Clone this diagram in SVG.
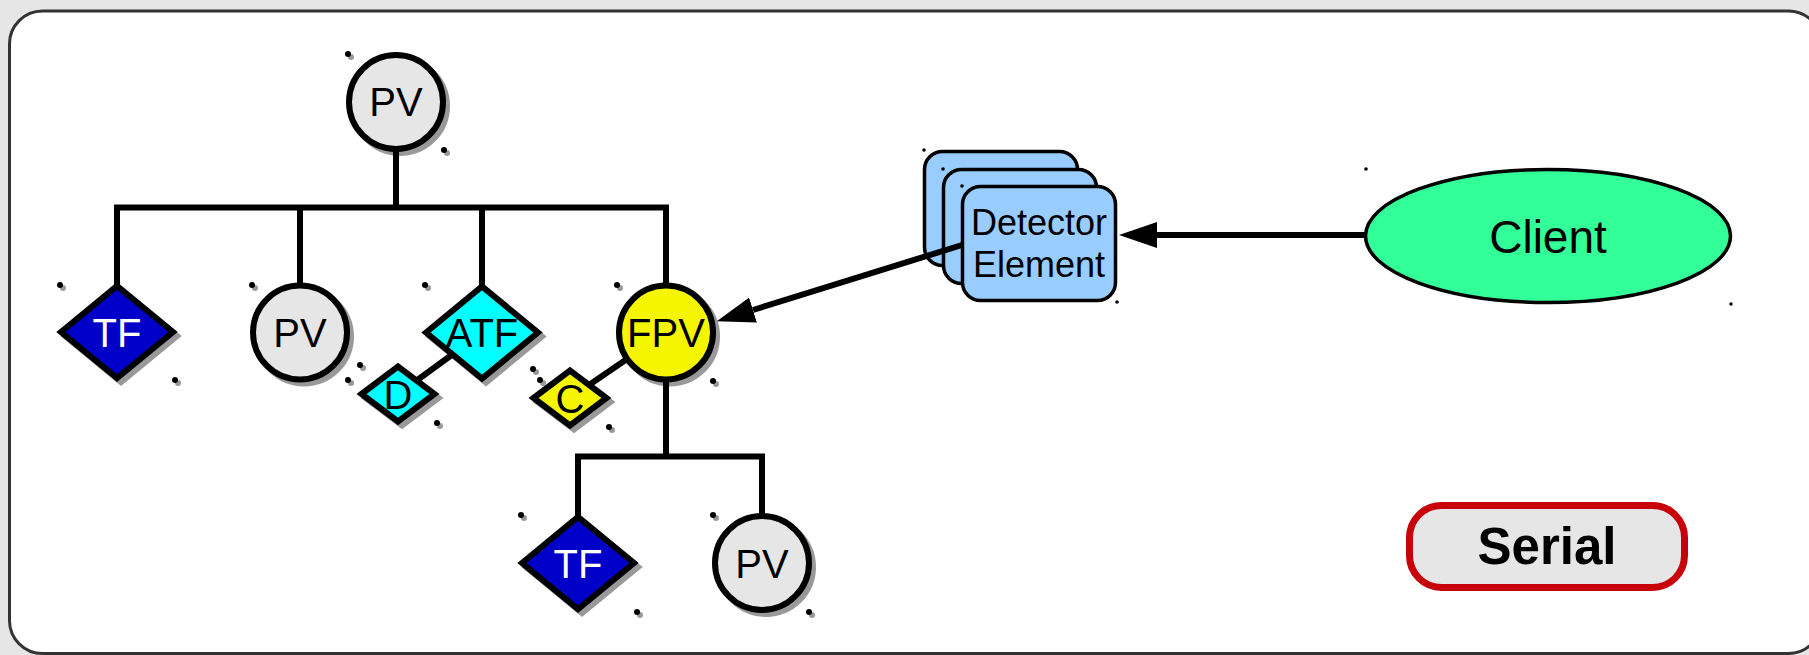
<svg xmlns="http://www.w3.org/2000/svg" width="1809" height="655" viewBox="0 0 1809 655">
<defs>
<style>
.bg{fill:#e6e6e6}
.frame{fill:#fff;stroke:#333;stroke-width:3}
.sh{fill:#999;stroke:#999;stroke-width:6}
.pv{fill:#e6e6e6;stroke:#000;stroke-width:6}
.tf{fill:#0000c8;stroke:#000;stroke-width:6}
.cy{fill:#00ffff;stroke:#000;stroke-width:6}
.ye{fill:#f5f500;stroke:#000;stroke-width:6}
.det{fill:#99ccff;stroke:#000;stroke-width:3.5}
.cl{fill:#33ff99;stroke:#000;stroke-width:3.5}
.serial{fill:#e6e6e6;stroke:#c8000a;stroke-width:7}
.lbl{font-family:"Liberation Sans",Arial,sans-serif;font-size:40px;text-anchor:middle;fill:#000}
.w{fill:#fff}
.dtxt{font-family:"Liberation Sans",Arial,sans-serif;font-size:36px;text-anchor:middle;fill:#000}
.ctxt{font-family:"Liberation Sans",Arial,sans-serif;font-size:46px;text-anchor:middle;fill:#000}
.stxt{font-family:"Liberation Sans",Arial,sans-serif;font-size:51px;font-weight:bold;text-anchor:middle;fill:#000}
.conn{fill:none;stroke:#000;stroke-width:6}
.dk{fill:#000}
.dg{fill:#999}
</style>
<marker id="ah" markerUnits="userSpaceOnUse" viewBox="0 -13 38 26" refX="0" refY="0" markerWidth="38" markerHeight="26" orient="auto">
<path d="M0,-13 L38,0 L0,13 z" fill="#000"/>
</marker>
</defs>
<rect class="bg" x="0" y="0" width="1809" height="655"/>
<rect class="frame" x="9.5" y="11" width="1812" height="642.5" rx="33"/>

<g id="pv-top">
<circle class="sh" cx="400" cy="106" r="47"/>
<circle class="pv" cx="396" cy="102" r="47"/>
<text class="lbl" x="396" y="116">PV</text>
<circle class="dg" cx="351" cy="57" r="3"/><circle class="dk" cx="348" cy="54" r="3"/>
<circle class="dg" cx="447" cy="153" r="3"/><circle class="dk" cx="444" cy="150" r="3"/>
</g>

<g id="tf-1">
<polygon class="sh" points="65,336 121,290 177,336 121,382"/>
<polygon class="tf" points="61,332 117,286 173,332 117,378"/>
<text class="lbl w" x="117" y="346.5">TF</text>
<circle class="dg" cx="63" cy="288" r="3"/><circle class="dk" cx="60" cy="285" r="3"/>
<circle class="dg" cx="178" cy="383" r="3"/><circle class="dk" cx="175" cy="380" r="3"/>
</g>

<g id="pv-2">
<circle class="sh" cx="304" cy="336.5" r="47"/>
<circle class="pv" cx="300" cy="332.5" r="47"/>
<text class="lbl" x="300" y="347">PV</text>
<circle class="dg" cx="255" cy="288" r="3"/><circle class="dk" cx="252" cy="285" r="3"/>
<circle class="dg" cx="351" cy="383" r="3"/><circle class="dk" cx="348" cy="380" r="3"/>
</g>

<g id="atf">
<polygon class="sh" points="430,336.5 486,290.5 542,336.5 486,382.5"/>
<polygon class="cy" points="426,332.5 482,286.5 538,332.5 482,378.5"/>
<text class="lbl" x="482" y="347">ATF</text>
<circle class="dg" cx="428" cy="288" r="3"/><circle class="dk" cx="425" cy="285" r="3"/>
<circle class="dg" cx="543" cy="383" r="3"/><circle class="dk" cx="540" cy="380" r="3"/>
</g>

<g id="d">
<polygon class="sh" points="365.5,398 402,370.5 438.5,398 402,425.5"/>
<polygon class="cy" points="361.5,394 398,366.5 434.5,394 398,421.5"/>
<text class="lbl" x="398" y="408.5">D</text>
<circle class="dg" cx="363" cy="368" r="3"/><circle class="dk" cx="360" cy="365" r="3"/>
<circle class="dg" cx="440" cy="426" r="3"/><circle class="dk" cx="437" cy="423" r="3"/>
</g>

<g id="fpv">
<circle class="sh" cx="670" cy="336.5" r="47"/>
<circle class="ye" cx="666" cy="332.5" r="47"/>
<text class="lbl" x="666" y="347">FPV</text>
<circle class="dg" cx="620" cy="288" r="3"/><circle class="dk" cx="617" cy="285" r="3"/>
<circle class="dg" cx="716" cy="384" r="3"/><circle class="dk" cx="713" cy="381" r="3"/>
</g>

<g id="c">
<polygon class="sh" points="537.5,402 574,374.5 610.5,402 574,429.5"/>
<polygon class="ye" points="533.5,398 570,370.5 606.5,398 570,425.5"/>
<text class="lbl" x="570" y="412.5">C</text>
<circle class="dg" cx="536" cy="372" r="3"/><circle class="dk" cx="533" cy="369" r="3"/>
<circle class="dg" cx="612" cy="430" r="3"/><circle class="dk" cx="609" cy="427" r="3"/>
</g>

<g id="tf-2">
<polygon class="sh" points="526,567 582,521 638,567 582,613"/>
<polygon class="tf" points="522,563 578,517 634,563 578,609"/>
<text class="lbl w" x="578" y="577.5">TF</text>
<circle class="dg" cx="524" cy="518" r="3"/><circle class="dk" cx="521" cy="515" r="3"/>
<circle class="dg" cx="640" cy="615" r="3"/><circle class="dk" cx="637" cy="612" r="3"/>
</g>

<g id="pv-3">
<circle class="sh" cx="766" cy="567" r="47"/>
<circle class="pv" cx="762" cy="563" r="47"/>
<text class="lbl" x="762" y="577.5">PV</text>
<circle class="dg" cx="716" cy="518" r="3"/><circle class="dk" cx="713" cy="515" r="3"/>
<circle class="dg" cx="812" cy="615" r="3"/><circle class="dk" cx="809" cy="612" r="3"/>
</g>

<g id="detector">
<rect class="det" x="924.5" y="151.5" width="153" height="114" rx="18"/>
<rect class="det" x="943.5" y="169.5" width="153" height="114" rx="18"/>
<circle class="dk" cx="924" cy="150" r="1.8"/>
<circle class="dk" cx="943" cy="169" r="1.8"/>
</g>

<g id="client">
<ellipse class="cl" cx="1548" cy="236" rx="182.5" ry="66.5"/>
<text class="ctxt" x="1548" y="252.5">Client</text>
<circle class="dk" cx="1366" cy="169" r="1.8"/>
<circle class="dk" cx="1731" cy="304" r="1.8"/>
</g>

<g id="serial">
<rect class="serial" x="1409.5" y="505.5" width="275" height="82" rx="32"/>
<text class="stxt" x="1547" y="564">Serial</text>
</g>

<g id="connectors">
<path class="conn" d="M396,149 V207.5"/>
<path class="conn" d="M117,286 V207.5 H666 V285.5"/>
<path class="conn" d="M300,207.5 V285.5"/>
<path class="conn" d="M482,207.5 V286.5"/>
<path class="conn" d="M416,381 L453,354"/>
<path class="conn" d="M589,385 L627,359"/>
<path class="conn" d="M666,379.5 V456.5"/>
<path class="conn" d="M578,517 V456.5 H762 V516"/>
<path class="conn" d="M1365,235 H1157" marker-end="url(#ah)"/>
<path class="conn" d="M962,245 L753,310" marker-end="url(#ah)"/>
</g>

<g id="detector-front">
<rect class="det" x="962.5" y="186.5" width="153" height="114" rx="18"/>
<text class="dtxt" x="1039" y="234.5">Detector</text>
<text class="dtxt" x="1039" y="276.5">Element</text>
<circle class="dk" cx="962" cy="186" r="1.8"/>
<circle class="dk" cx="1117" cy="302" r="1.8"/>
</g>
</svg>
